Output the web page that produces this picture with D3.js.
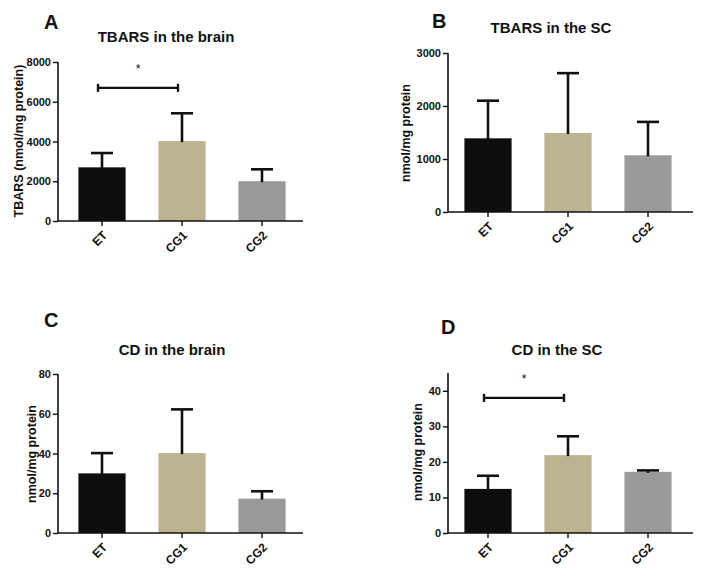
<!DOCTYPE html>
<html>
<head>
<meta charset="utf-8">
<script src="https://cdn.jsdelivr.net/npm/d3@7"></script>
<style>
  body { margin: 0; background: #fff; }
  svg { font-family: "Liberation Sans", Arial, sans-serif; }
  .tick text { font-size: 11px; font-weight: bold; fill: #111; }
</style>
</head>
<body>
<svg id="chart" width="702" height="581"></svg>
<script>
var groups = ["ET", "CG1", "CG2"];
var colors = ["#0e0e0e", "#bcb491", "#9a9a9a"];

// means and upper error (mean + SD) per panel
var tbarsBrain = [2700, 4020, 2000],
    tbarsBrainErr = [3420, 5420, 2600];
var tbarsSC = [1390, 1490, 1070],
    tbarsSCErr = [2100, 2620, 1700];
var cdBrain = [30, 40.2, 17.3],
    cdBrainErr = [40.2, 62.2, 21];
var cdSC = [12.4, 21.9, 17.2],
    cdSCErr = [16.1, 27.2, 17.6];

var tbarsBrainTicks = [0, 2000, 4000, 6000, 8000],
    tbarsSCTicks = [0, 1000, 2000, 3000],
    cdBrainTicks = [0, 20, 40, 60, 80],
    cdSCTicks = [0, 10, 20, 30, 40];

var svg = d3.select("#chart");

function panel(p) {
    var g = svg.append("g");

    var y = d3.scaleLinear().domain([0, p.max]).range([p.y0, p.yTop]);
    var x = d3.scaleBand()
        .domain(groups)
        .range([p.x0 + p.shift, p.x0 + p.shift + 240])
        .paddingInner(0.41)
        .paddingOuter(0.205);

    // bars
    g.selectAll("rect.bar")
        .data(p.values)
        .enter().append("rect")
        .attr("class", "bar")
        .attr("x", function (d, i) { return x(groups[i]); })
        .attr("y", function (d) { return y(d); })
        .attr("width", x.bandwidth())
        .attr("height", function (d) { return p.y0 - y(d); })
        .attr("fill", function (d, i) { return colors[i]; });

    // upper error bars
    var eb = g.selectAll("g.err")
        .data(p.err)
        .enter().append("g")
        .attr("class", "err")
        .attr("stroke", "#111")
        .attr("stroke-width", 2.6);
    eb.append("line")
        .attr("x1", function (d, i) { return x(groups[i]) + x.bandwidth() / 2; })
        .attr("x2", function (d, i) { return x(groups[i]) + x.bandwidth() / 2; })
        .attr("y1", function (d, i) { return y(p.values[i]) + 1; })
        .attr("y2", function (d) { return y(d); });
    eb.append("line")
        .attr("x1", function (d, i) { return x(groups[i]) + x.bandwidth() / 2 - 11; })
        .attr("x2", function (d, i) { return x(groups[i]) + x.bandwidth() / 2 + 11; })
        .attr("y1", function (d) { return y(d); })
        .attr("y2", function (d) { return y(d); });

    // y axis
    var ya = g.append("g")
        .attr("transform", "translate(" + p.x0 + ",0)")
        .call(d3.axisLeft(y).tickValues(p.ticks).tickSize(5).tickPadding(2).tickFormat(d3.format("d")));
    ya.select(".domain").attr("stroke", "#111").attr("stroke-width", 1.6)
        .attr("d", "M0," + p.y0 + "V" + y(p.max));
    ya.selectAll(".tick line").attr("stroke", "#111").attr("stroke-width", 1.4);

    // x axis
    var xa = g.append("g")
        .attr("transform", "translate(0," + p.y0 + ")")
        .call(d3.axisBottom(x).tickSize(5).tickSizeOuter(0));
    xa.select(".domain").attr("stroke", "#111").attr("stroke-width", 1.6)
        .attr("d", "M" + p.x0 + ",0H" + (p.x0 + 245));
    xa.selectAll(".tick line").attr("stroke", "#111").attr("stroke-width", 1.4);
    xa.selectAll(".tick text")
        .style("font-size", "12px")
        .attr("text-anchor", "end")
        .attr("dy", null)
        .attr("y", 0)
        .attr("transform", "translate(6,15) rotate(-45)");

    // y label
    g.append("text")
        .attr("transform", "translate(" + p.labelX + "," + p.labelY + ") rotate(-90)")
        .attr("text-anchor", "middle")
        .attr("dominant-baseline", "middle")
        .attr("font-size", 12.5)
        .attr("font-weight", "bold")
        .attr("fill", "#111")
        .text(p.ylabel);

    // title
    g.append("text")
        .attr("x", p.titleX)
        .attr("y", p.titleY)
        .attr("text-anchor", "middle")
        .attr("font-size", 15)
        .attr("font-weight", "bold")
        .attr("fill", "#111")
        .text(p.title);

    // panel letter
    g.append("text")
        .attr("x", p.letterX)
        .attr("y", p.letterY)
        .attr("font-size", 20)
        .attr("font-weight", "bold")
        .attr("fill", "#111")
        .text(p.letter);

    // significance bracket
    if (p.sig) {
        var bx1 = x(groups[0]) + x.bandwidth() / 2 - 4,
            bx2 = x(groups[1]) + x.bandwidth() / 2 - 4,
            by = y(p.sig);
        var s = g.append("g").attr("stroke", "#111").attr("stroke-width", 2.4);
        s.append("line").attr("x1", bx1).attr("x2", bx2).attr("y1", by).attr("y2", by);
        s.append("line").attr("x1", bx1).attr("x2", bx1).attr("y1", by - 4).attr("y2", by + 4);
        s.append("line").attr("x1", bx2).attr("x2", bx2).attr("y1", by - 4).attr("y2", by + 4);
        g.append("text")
            .attr("x", (bx1 + bx2) / 2)
            .attr("y", by - 15)
            .attr("text-anchor", "middle")
            .attr("font-size", 12)
            .attr("fill", "#111")
            .text("*");
    }
}

panel({ values: tbarsBrain, err: tbarsBrainErr, ticks: tbarsBrainTicks, max: 8000,
    x0: 58, shift: 4, y0: 221, yTop: 62, sig: 6700,
    ylabel: "TBARS (nmol/mg protein)", labelX: 20, labelY: 141,
    title: "TBARS in the brain", titleX: 166, titleY: 42,
    letter: "A", letterX: 44, letterY: 29 });

panel({ values: tbarsSC, err: tbarsSCErr, ticks: tbarsSCTicks, max: 3000,
    x0: 448, shift: 0, y0: 212, yTop: 53,
    ylabel: "nmol/mg protein", labelX: 407, labelY: 133,
    title: "TBARS in the SC", titleX: 551, titleY: 33,
    letter: "B", letterX: 432, letterY: 28 });

panel({ values: cdBrain, err: cdBrainErr, ticks: cdBrainTicks, max: 80,
    x0: 58, shift: 4, y0: 533, yTop: 374,
    ylabel: "nmol/mg protein", labelX: 33, labelY: 454,
    title: "CD in the brain", titleX: 172, titleY: 355,
    letter: "C", letterX: 44, letterY: 327 });

panel({ values: cdSC, err: cdSCErr, ticks: cdSCTicks, max: 45,
    x0: 448, shift: 0, y0: 533, yTop: 373, sig: 38,
    ylabel: "nmol/mg protein", labelX: 419, labelY: 452,
    title: "CD in the SC", titleX: 557, titleY: 355,
    letter: "D", letterX: 441, letterY: 334 });
</script>
</body>
</html>
